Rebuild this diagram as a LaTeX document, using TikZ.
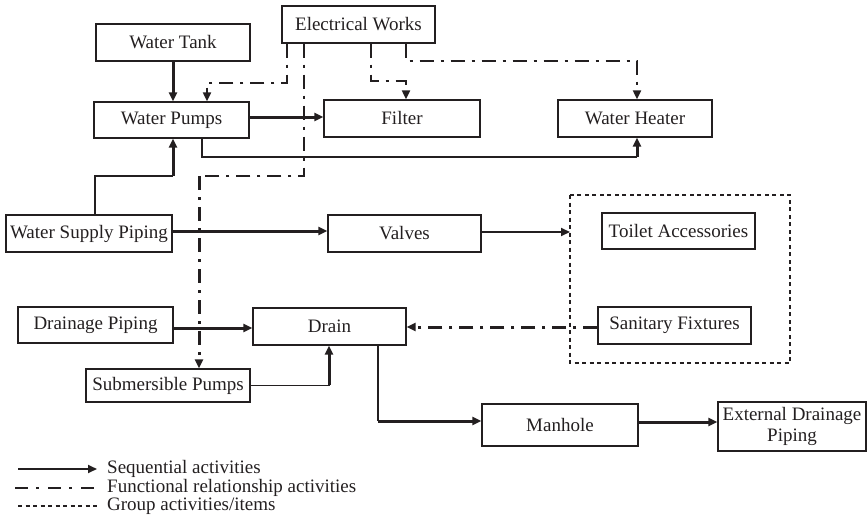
\documentclass[tikz,border=0pt]{standalone}
\usepackage{fontspec}
\setmainfont{Liberation Serif}
\usetikzlibrary{arrows.meta}
\definecolor{ink}{HTML}{231F20}

\begin{document}
\begin{tikzpicture}[x=1pt,y=-1pt,font=\fontsize{19}{21}\selectfont,
    box/.style={draw=ink,line width=1.3pt,minimum width=#1,minimum height=37pt,
      inner sep=0pt,text=ink},
    tip/.style={-{Triangle[length=9pt,width=8pt]}},
    seq/.style={draw=ink,line width=3pt,tip},
    thin/.style={draw=ink,line width=1.3pt},
    func/.style={draw=ink,line width=2pt,dash pattern=on 14pt off 7pt on 3pt off 7pt},
    group/.style={draw=ink,line width=1.3pt,dash pattern=on 4pt off 3.5pt}]
  \useasboundingbox (0,0) rectangle (867,527);
  \node[box=154pt] (tank) at (173,42.5) {Water Tank};
  \node[box=153pt] (elec) at (358.5,24.5) {Electrical Works};
  \node[box=155pt,minimum height=36pt] (pumps) at (171.5,120) {Water Pumps};
  \node[box=156pt] (filter) at (402,118.5) {Filter};
  \node[box=154pt] (heater) at (635,118.5) {Water Heater};
  \node[box=166pt] (wsp) at (89,233.5) {Water Supply Piping};
  \node[box=153pt] (valves) at (404.5,233.5) {Valves};
  \node[box=153pt,minimum height=36pt] (toilet) at (678.5,231) {Toilet Accessories};
  \node[box=155pt,minimum height=36pt] (drainp) at (95.5,325) {Drainage Piping};
  \node[box=153pt] (drain) at (329.5,326.5) {Drain};
  \node[box=153pt] (sanit) at (674.5,325.5) {Sanitary Fixtures};
  \node[box=164pt,minimum height=33pt] (subm) at (168,385.5) {Submersible Pumps};
  \node[box=156pt,minimum height=42pt] (manhole) at (560,425) {Manhole};
  \node[box=148pt,minimum height=49pt,align=center] (edp) at (792,426.5)
    {External Drainage\\Piping};
  \draw[group] (570,195) rectangle (790,363);
  \coordinate (grp) at (570,232);
  % sequential links
  \coordinate (hb) at (637,157);
  \coordinate (wj) at (173,176);
  \coordinate (dj) at (329,385);
  \coordinate (mj) at (378,421);
  \draw[seq] (tank.south) -- (tank.south |- pumps.north);
  \draw[seq] (pumps.east |- 0,117) -- (filter.west |- 0,117);
  \draw[thin] (pumps.south -| 202,0) |- (hb);
  \draw[seq] (hb) -- (hb |- heater.south);
  \draw[thin] (wsp.north -| 95,0) |- (wj);
  \draw[seq] (wj) -- (wj |- pumps.south);
  \draw[seq] (wsp.east |- 0,231) -- (valves.west |- 0,231);
  \draw[thin,line width=2pt,tip] (valves.east |- grp) -- (grp);
  \draw[seq] (drainp.east |- 0,328) -- (drain.west |- 0,328);
  \draw[thin] (subm.east) -| (dj);
  \draw[seq] (dj) -- (dj |- drain.south);
  \draw[thin,line width=1.7pt] (drain.south -| mj) -- (mj);
  \draw[seq] (mj) -- (mj -| manhole.west);
  \draw[seq] (manhole.east |- 0,422) -- (edp.west |- 0,422);
  % functional links
  \coordinate (ea) at (287,83);
  \coordinate (pa) at (207,83);
  \coordinate (eb) at (304,176);
  \coordinate (sb) at (199,176);
  \coordinate (ec) at (371,81);
  \coordinate (fc) at (406,81);
  \coordinate (ed) at (406,61);
  \coordinate (hd) at (637,61);
  \draw[func,tip] (elec.south -| ea) -- (ea) -- (pa) -- (pa |- pumps.north);
  \draw[func] (elec.south -| eb) -- (eb) -- (sb);
  \draw[func,line width=3pt,tip] (sb) -- (sb |- subm.north);
  \draw[func,tip] (elec.south -| ec) -- (ec) -- (fc) -- (fc |- filter.north);
  \draw[func,tip] (elec.south -| ed) -- (ed) -- (hd) -- (hd |- heater.north);
  \draw[func,line width=3pt,tip] (sanit.west |- 0,327) -- (drain.east |- 0,327);
  % legend
  \node[anchor=west,inner sep=0pt,text=ink] (lseq) at (107,469) {Sequential activities};
  \node[anchor=west,inner sep=0pt,text=ink] (lfun) at (107,488) {Functional relationship activities};
  \node[anchor=west,inner sep=0pt,text=ink] (lgrp) at (107,506) {Group activities/items};
  \coordinate (ls) at (18,469);
  \coordinate (lf) at (15,488);
  \coordinate (lg) at (18,506);
  \draw[thin,line width=1.8pt,tip] (ls) -- ++(79,0);
  \draw[func,line width=2.2pt,dash pattern=on 13pt off 8pt on 3pt off 9pt] (lf) -- ++(84,0);
  \draw[group] (lg) -- ++(80,0);
\end{tikzpicture}
\end{document}
